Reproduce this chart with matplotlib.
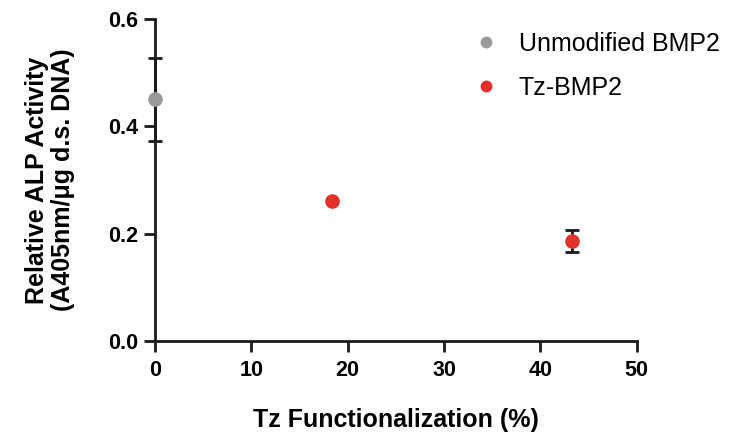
import matplotlib.pyplot as plt
from matplotlib.lines import Line2D

# data
unmod_x = [0.0]
unmod_y = [0.45]
unmod_err = [0.078]

tz_x = [18.4, 43.3]
tz_y = [0.261, 0.186]
tz_err = [0.0, 0.021]

gray = "#9a9a9a"
red = "#e5302a"
ink = "#1a1a1a"

plt.rcParams["font.family"] = ["Liberation Sans", "DejaVu Sans"]

fig = plt.figure(figsize=(7.31, 4.40), dpi=100)
ax = fig.add_axes([0.212, 0.225, 0.659, 0.732])

err_kw = dict(fmt="none", ecolor=ink, elinewidth=2, capsize=4.7, capthick=2,
              clip_on=False, zorder=2)
ax.errorbar(unmod_x, unmod_y, yerr=unmod_err, **err_kw)
# skip the zero-size error bars
tz_ex = [x for x, e in zip(tz_x, tz_err) if e > 0]
tz_ey = [y for y, e in zip(tz_y, tz_err) if e > 0]
tz_ee = [e for e in tz_err if e > 0]
ax.errorbar(tz_ex, tz_ey, yerr=tz_ee, **err_kw)

ax.plot(unmod_x, unmod_y, "o", color=gray, markersize=9.5, clip_on=False, zorder=3)
ax.plot(tz_x, tz_y, "o", color=red, markersize=9.5, clip_on=False, zorder=3)

ax.set_xlim(0, 50)
ax.set_ylim(0, 0.6)
ax.set_xticks([0, 10, 20, 30, 40, 50])
ax.set_yticks([0.0, 0.2, 0.4, 0.6])
ax.yaxis.set_major_formatter(plt.FuncFormatter(lambda v, _: f"{v:.1f}"))

for side in ("top", "right"):
    ax.spines[side].set_visible(False)
for side in ("left", "bottom"):
    ax.spines[side].set_linewidth(2)
    ax.spines[side].set_color(ink)
ax.tick_params(width=2, length=8, color=ink, labelsize=15.5, pad=4)
ax.tick_params(axis="x", pad=6)
for lbl in ax.get_xticklabels() + ax.get_yticklabels():
    lbl.set_fontweight("bold")

ax.set_xlabel("Tz Functionalization (%)", fontsize=18, fontweight="bold", labelpad=19)
ax.set_ylabel("Relative ALP Activity\n(A405nm/\u03bcg d.s. DNA)", fontsize=18,
              fontweight="bold", labelpad=24, linespacing=1.1)

handles = [
    Line2D([], [], marker="o", ls="none", color=gray, markersize=7.5),
    Line2D([], [], marker="o", ls="none", color=red, markersize=7.5),
]
ax.legend(handles, ["Unmodified BMP2", "Tz-BMP2"], loc="upper left",
          bbox_to_anchor=(0.615, 1.03), frameon=False, fontsize=18,
          handletextpad=0.8, labelspacing=0.8, handlelength=1.0)

fig.savefig("out.png", dpi=100)
